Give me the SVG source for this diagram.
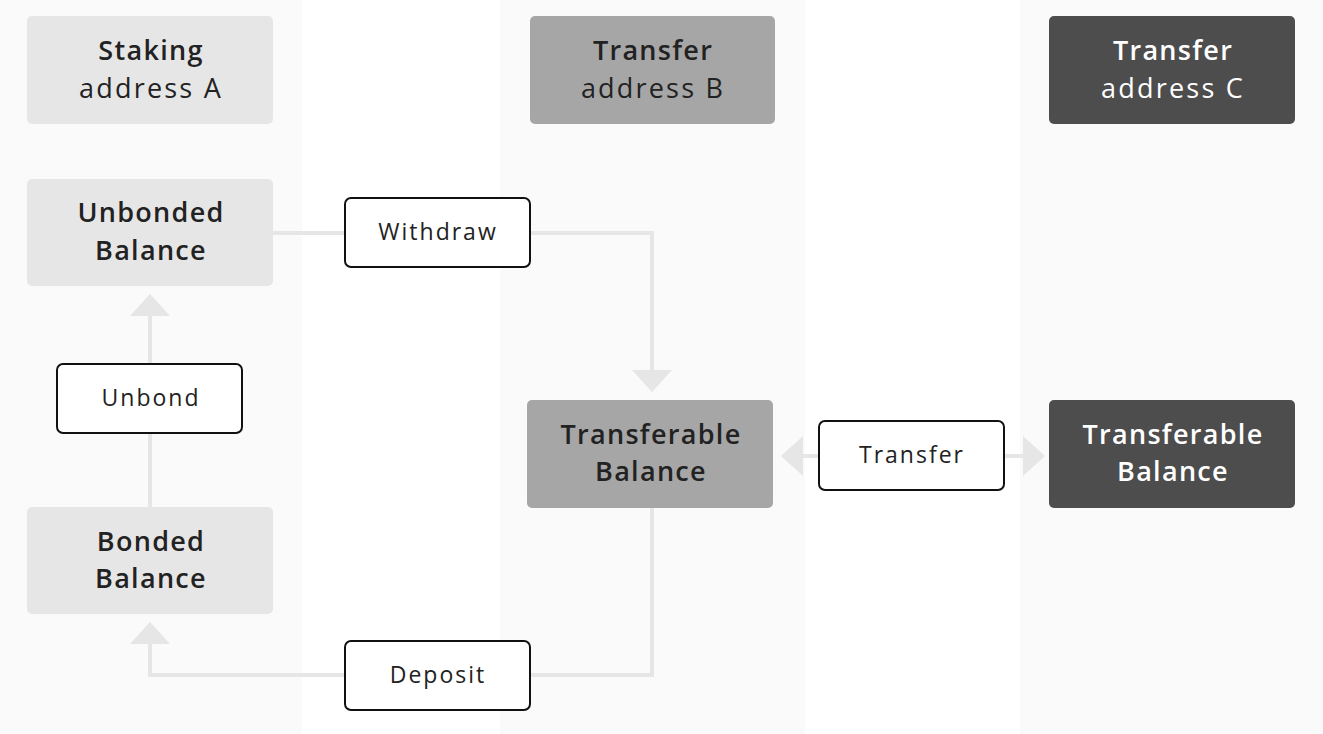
<svg xmlns="http://www.w3.org/2000/svg" width="1323" height="734" viewBox="0 0 1323 734">
<style>
.col{fill:#fafafa}
.lA{fill:#e6e6e6}
.lB{fill:#a6a6a6}
.lC{fill:#4d4d4d}
.t{font-family:"Open Sans","Liberation Sans",sans-serif;font-size:27px;letter-spacing:2.2px;text-anchor:middle;fill:#222}
.b{font-weight:600;letter-spacing:1.3px}
.w{fill:#ffffff}
.lbl{fill:#ffffff;stroke:#111;stroke-width:2}
.lt{font-family:"Open Sans","Liberation Sans",sans-serif;font-size:23px;letter-spacing:2px;text-anchor:middle;fill:#222}
.c{fill:none;stroke:#e6e6e6;stroke-width:4}
.ah{fill:#e6e6e6}
</style>
<rect width="1323" height="734" fill="#ffffff"/>
<rect class="col" x="0" y="0" width="302" height="734"/>
<rect class="col" x="500" y="0" width="305" height="734"/>
<rect class="col" x="1020" y="0" width="303" height="734"/>
<g id="connectors">
<polyline class="c" points="273,233 652,233 652,372"/>
<polygon class="ah" points="632,370 672,370 652,392"/>
<line class="c" x1="150" y1="507" x2="150" y2="314"/>
<polygon class="ah" points="130,316 170,316 150,294"/>
<polyline class="c" points="652,508 652,675 150,675 150,642"/>
<polygon class="ah" points="130,644 170,644 150,622"/>
<line class="c" x1="819" y1="456" x2="801" y2="456"/>
<polygon class="ah" points="803,436 803,476 781,456"/>
<line class="c" x1="1004" y1="456" x2="1025" y2="456"/>
<polygon class="ah" points="1023,436 1023,476 1045,456"/>
</g>
<g id="staking-address-a">
<rect class="lA" x="27" y="16" width="246" height="108" rx="5"/>
<text class="t b" x="151" y="60">Staking</text>
<text class="t" x="151" y="98">address A</text>
</g>
<g id="transfer-address-b">
<rect class="lB" x="530" y="16" width="245" height="108" rx="5"/>
<text class="t b" x="653" y="60">Transfer</text>
<text class="t" x="653" y="98">address B</text>
</g>
<g id="transfer-address-c">
<rect class="lC" x="1049" y="16" width="246" height="108" rx="5"/>
<text class="t b w" x="1173" y="60">Transfer</text>
<text class="t w" x="1173" y="98">address C</text>
</g>
<g id="unbonded-balance">
<rect class="lA" x="27" y="179" width="246" height="107" rx="5"/>
<text class="t b" x="151" y="222">Unbonded</text>
<text class="t b" x="151" y="260">Balance</text>
</g>
<g id="bonded-balance">
<rect class="lA" x="27" y="507" width="246" height="107" rx="5"/>
<text class="t b" x="151" y="551">Bonded</text>
<text class="t b" x="151" y="588">Balance</text>
</g>
<g id="transferable-balance-b">
<rect class="lB" x="527" y="400" width="246" height="108" rx="5"/>
<text class="t b" x="651" y="444">Transferable</text>
<text class="t b" x="651" y="481">Balance</text>
</g>
<g id="transferable-balance-c">
<rect class="lC" x="1049" y="400" width="246" height="108" rx="5"/>
<text class="t b w" x="1173" y="444">Transferable</text>
<text class="t b w" x="1173" y="481">Balance</text>
</g>
<g id="withdraw">
<rect class="lbl" x="345" y="198" width="185" height="69" rx="6"/>
<text class="lt" x="438" y="240">Withdraw</text>
</g>
<g id="unbond">
<rect class="lbl" x="57" y="364" width="185" height="69" rx="6"/>
<text class="lt" x="151" y="406">Unbond</text>
</g>
<g id="transfer">
<rect class="lbl" x="819" y="421" width="185" height="69" rx="6"/>
<text class="lt" x="912" y="463">Transfer</text>
</g>
<g id="deposit">
<rect class="lbl" x="345" y="641" width="185" height="69" rx="6"/>
<text class="lt" x="438" y="683">Deposit</text>
</g>
</svg>
